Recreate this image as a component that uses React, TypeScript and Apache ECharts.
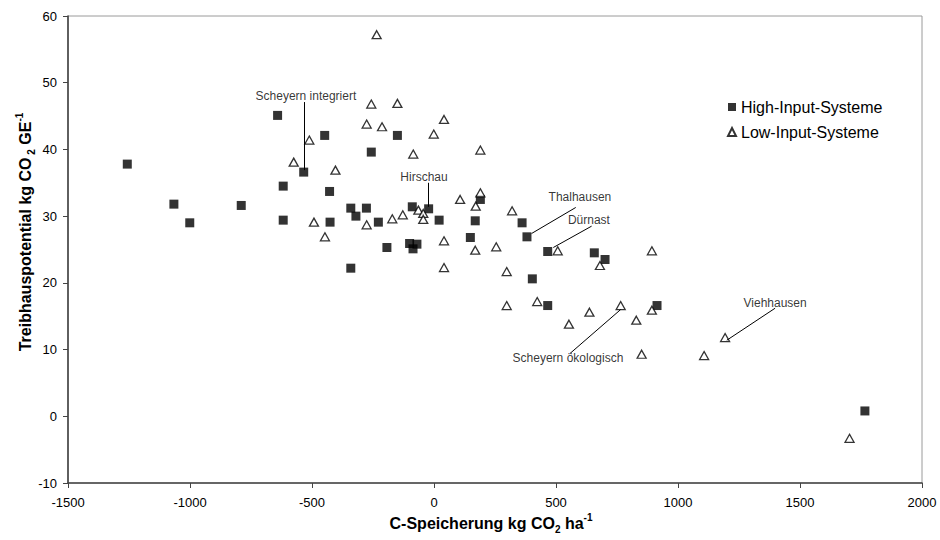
import React, { useEffect, useRef } from "react";
import * as echarts from "echarts";

const xTicks = { min: -1500, max: 2000, interval: 500 };
const yTicks = { min: -10, max: 60, interval: 10 };

const seriesNames = ["High-Input-Systeme", "Low-Input-Systeme"];

const highInput: number[][] = [
  [-1257, 37.8], [-1066, 31.8], [-1001, 29.0], [-790, 31.6], [-641, 45.1], [-618, 34.5],
  [-618, 29.4], [-534, 36.6], [-448, 42.1], [-428, 33.7], [-426, 29.1], [-341, 31.2],
  [-320, 30.0], [-341, 22.2], [-277, 31.2], [-257, 39.6], [-228, 29.1], [-193, 25.3],
  [-150, 42.1], [-100, 25.9], [-70, 25.8], [-86, 25.1], [-89, 31.4], [-22, 31.1],
  [21, 29.4], [149, 26.8], [169, 29.3], [190, 32.5], [361, 29.0], [381, 26.9],
  [403, 20.6], [466, 24.7], [466, 16.6], [657, 24.5], [701, 23.5], [914, 16.6], [1766, 0.8],
];

const lowInput: number[][] = [
  [-575, 38.1], [-511, 41.4], [-492, 29.1], [-447, 26.9], [-404, 36.9], [-276, 43.8],
  [-276, 28.7], [-257, 46.8], [-235, 57.2], [-213, 43.4], [-171, 29.6], [-150, 46.9],
  [-128, 30.2], [-85, 39.3], [-64, 30.9], [-44, 30.4], [-44, 29.5], [-1, 42.3],
  [41, 44.5], [41, 26.3], [41, 22.3], [107, 32.5], [171, 31.5], [169, 24.9],
  [190, 39.9], [190, 33.5], [255, 25.4], [298, 21.7], [298, 16.6], [320, 30.8],
  [423, 17.2], [507, 24.8], [553, 13.8], [637, 15.6], [680, 22.6], [765, 16.6],
  [829, 14.4], [851, 9.3], [893, 24.8], [893, 15.9], [1107, 9.1], [1193, 11.8], [1703, -3.3],
];

// annotation: label text, label position (data space), leader line from -> to (data space)
const annotationNames = ["Scheyern integriert", "Hirschau", "Thalhausen", "Dürnast", "Scheyern ökologisch", "Viehhausen"];
const annotationLabelPos: number[][] = [
  [-525, 48.0], [-41, 35.8], [598, 32.9], [635, 29.4], [549, 8.8], [1398, 17.0],
];
const annotationLineFrom: number[][] = [
  [-533, 47.1], [-24, 35.0], [581, 31.3], [646, 28.5], [557, 9.4], [1398, 16.2],
];
const annotationLineTo: number[][] = [
  [-533, 36.9], [-24, 31.4], [400, 27.4], [489, 25.3], [765, 16.0], [1200, 11.4],
];

const FONT = "'Liberation Sans', Arial, Helvetica, sans-serif";

export default function App() {
  const ref = useRef<HTMLDivElement>(null);

  useEffect(() => {
    if (!ref.current) return;
    const chart = echarts.init(ref.current, undefined, { renderer: "svg" });

    const titleRich = {
      a: { fontFamily: FONT, fontSize: 16, fontWeight: "bold", color: "#000", lineHeight: 22 },
      sub: { fontFamily: FONT, fontSize: 10, fontWeight: "bold", color: "#000", verticalAlign: "bottom", lineHeight: 22 },
      sup: { fontFamily: FONT, fontSize: 10, fontWeight: "bold", color: "#000", verticalAlign: "top", lineHeight: 22 },
    };

    chart.setOption({
      animation: false,
      backgroundColor: "#fff",
      grid: {
        left: 68,
        right: 18,
        top: 16,
        bottom: 57,
        show: true,
        borderColor: "#9a9a9a",
        borderWidth: 1,
        backgroundColor: "transparent",
      },
      legend: {
        data: [
          { name: seriesNames[0], icon: "rect" },
          { name: seriesNames[1], icon: "triangle" },
        ],
        orient: "vertical",
        left: 722,
        top: 94,
        itemWidth: 8,
        itemHeight: 8,
        itemGap: 9,
        textStyle: { fontFamily: FONT, fontSize: 16, color: "#000" },
      },
      xAxis: {
        type: "value",
        min: xTicks.min,
        max: xTicks.max,
        interval: xTicks.interval,
        splitLine: { show: false },
        axisLine: { show: true, onZero: false, lineStyle: { color: "#444", width: 1.6 } },
        axisTick: { show: true, length: 5, lineStyle: { color: "#444" } },
        axisLabel: {
          fontFamily: FONT,
          fontSize: 13,
          color: "#000",
          margin: 13,
          formatter: (v: number) => String(v),
        },
      },
      yAxis: {
        type: "value",
        min: yTicks.min,
        max: yTicks.max,
        interval: yTicks.interval,
        splitLine: { show: false },
        axisLine: { show: true, onZero: false, lineStyle: { color: "#444", width: 1.6 } },
        axisTick: { show: true, length: 5, lineStyle: { color: "#444" } },
        axisLabel: {
          fontFamily: FONT,
          fontSize: 13,
          color: "#000",
          margin: 11,
          formatter: (v: number) => String(v),
        },
      },
      graphic: [
        {
          type: "text",
          x: 25,
          y: 232,
          rotation: Math.PI / 2,
          style: {
            text: "{a|Treibhauspotential kg CO}{sub| 2}{a| GE}{sup|-1}",
            rich: titleRich,
            align: "center",
            verticalAlign: "middle",
          },
        },
        {
          type: "text",
          x: 491,
          y: 523,
          style: {
            text: "{a|C-Speicherung kg CO}{sub|2}{a| ha}{sup|-1}",
            rich: titleRich,
            align: "center",
            verticalAlign: "middle",
          },
        },
      ],
      series: [
        {
          name: seriesNames[0],
          type: "scatter",
          symbol: "rect",
          symbolSize: 9,
          itemStyle: { color: "#000" },
          data: highInput,
          z: 3,
        },
        {
          name: seriesNames[1],
          type: "scatter",
          symbol: "triangle",
          symbolSize: [9, 8],
          itemStyle: { color: "#fff", borderColor: "#000", borderWidth: 1.3 },
          data: lowInput,
          z: 4,
        },
        {
          name: "annotations",
          type: "scatter",
          symbolSize: 0,
          silent: true,
          itemStyle: { color: "#000" },
          emphasis: { disabled: true },
          data: annotationLabelPos.map((p, i) => [p[0], p[1], annotationNames[i]]),
          label: {
            show: true,
            position: "inside",
            formatter: (p: any) => p.data[2],
            fontFamily: FONT,
            fontSize: 12,
            color: "#000",
            textBorderWidth: 0,
          },
          markLine: {
            silent: true,
            symbol: ["none", "none"],
            label: { show: false },
            emphasis: { disabled: true },
            lineStyle: { color: "#000", width: 1, type: "solid" },
            data: annotationLineFrom.map((f, i) => [
              { coord: f },
              { coord: annotationLineTo[i] },
            ]),
          },
          z: 5,
        },
      ],
    });

    return () => chart.dispose();
  }, []);

  return (
    <div
      ref={ref}
      style={{ position: "fixed", left: 0, top: 0, width: 940, height: 540, background: "#fff" }}
    />
  );
}
